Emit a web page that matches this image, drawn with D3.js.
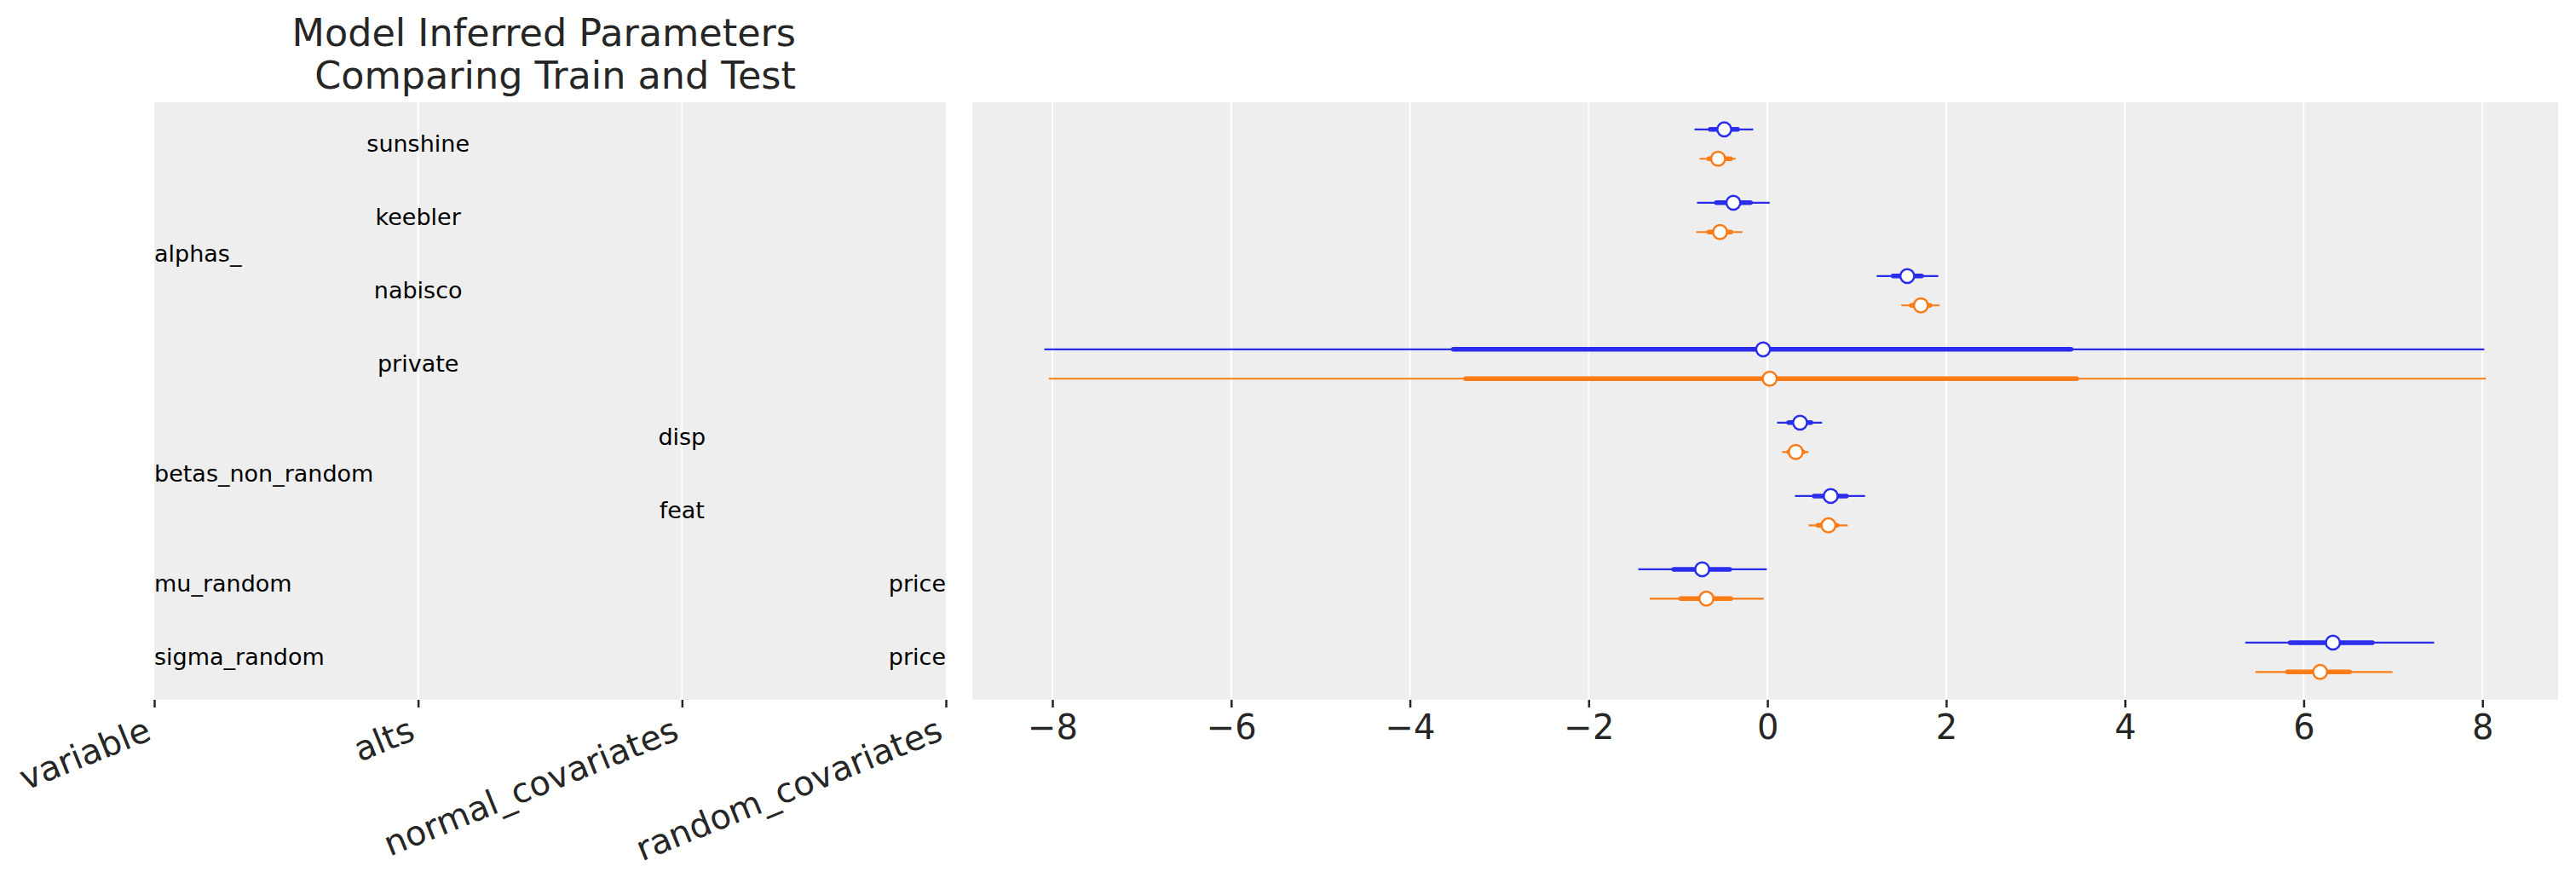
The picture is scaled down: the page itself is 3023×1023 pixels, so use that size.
<!DOCTYPE html>
<html>
<head>
<meta charset="utf-8">
<script src="https://cdn.jsdelivr.net/npm/d3@7"></script>
<style>
    body { margin: 0; background: #fff; }
    text { font-family: "DejaVu Sans", sans-serif; }
</style>
</head>
<body>
<svg id="chart"></svg>
<script>
// Table on the left: one row per parameter
const columnHeaders = ["variable", "alts", "normal_covariates", "random_covariates"];
const altsColumn = ["sunshine", "keebler", "nabisco", "private", "", "", "", ""];
const normalColumn = ["", "", "", "", "disp", "feat", "", ""];
const randomColumn = ["", "", "", "", "", "", "price", "price"];
const variableNames = ["alphas_", "betas_non_random", "mu_random", "sigma_random"];
const variableFirstRow = [0, 4, 6, 7];
const variableLastRow = [3, 5, 6, 7];

// Train (blue) estimates: median, 94% hdi, interquartile range
const trainMedian = [-0.483, -0.381, 1.565, -0.048, 0.365, 0.708, -0.730, 6.327];
const trainHdiLow = [-0.816, -0.788, 1.222, -8.09, 0.108, 0.308, -1.445, 5.346];
const trainHdiHigh = [-0.159, 0.026, 1.911, 8.02, 0.612, 1.092, -0.007, 7.46];
const trainIqrLow = [-0.641, -0.571, 1.407, -3.515, 0.238, 0.524, -1.048, 5.848];
const trainIqrHigh = [-0.333, -0.19, 1.724, 3.397, 0.486, 0.883, -0.422, 6.768];

// Test (orange) estimates
const testMedian = [-0.552, -0.530, 1.717, 0.026, 0.317, 0.683, -0.683, 6.184];
const testHdiLow = [-0.759, -0.797, 1.498, -8.04, 0.165, 0.46, -1.317, 5.46];
const testHdiHigh = [-0.355, -0.279, 1.927, 8.04, 0.46, 0.898, -0.041, 6.993];
const testIqrLow = [-0.657, -0.657, 1.61, -3.376, 0.238, 0.565, -0.968, 5.819];
const testIqrHigh = [-0.412, -0.41, 1.819, 3.46, 0.40, 0.778, -0.41, 6.514];

const xTicks = [-8, -6, -4, -2, 0, 2, 4, 6, 8];

const width = 3023;
const height = 1023;
const plotTop = 120, plotBottom = 821;
const textColor = "#262626";

const svg = d3.select("#chart")
    .attr("width", width)
    .attr("height", height);

svg.append("rect").attr("width", width).attr("height", height).attr("fill", "#fff");

// row index -> pixel y (shared by both panels)
const y = d3.scaleLinear()
    .domain([-0.57, 7.58])
    .range([plotTop, plotBottom]);

// ---------- left panel (the label table) ----------
const xLeft = d3.scaleLinear().domain([0, 3]).range([181, 1110]);

svg.append("rect")
    .attr("x", xLeft(0)).attr("y", plotTop)
    .attr("width", xLeft(3) - xLeft(0)).attr("height", plotBottom - plotTop)
    .attr("fill", "#eeeeee");

svg.selectAll(".lgrid")
    .data([1, 2])
    .enter()
    .append("line")
    .attr("class", "lgrid")
    .attr("x1", d => xLeft(d)).attr("x2", d => xLeft(d))
    .attr("y1", plotTop).attr("y2", plotBottom)
    .attr("stroke", "#fff")
    .attr("stroke-width", 2);

const leftAxis = svg.append("g")
    .attr("transform", `translate(0,${plotBottom})`)
    .call(d3.axisBottom(xLeft).tickValues([0, 1, 2, 3]).tickFormat(i => columnHeaders[i]).tickSize(9));
leftAxis.select(".domain").remove();
leftAxis.selectAll(".tick line").attr("stroke", textColor).attr("stroke-width", 2.5);
leftAxis.selectAll(".tick text")
    .attr("fill", textColor)
    .style("font-size", "40px")
    .attr("text-anchor", "end")
    .attr("y", 0).attr("dy", 0)
    .attr("transform", "translate(-2,46) rotate(-22)");

// table cells
function addColumn(values, col, anchor) {
    svg.selectAll(".cell" + col)
        .data(values)
        .enter()
        .append("text")
        .attr("class", "cell" + col)
        .attr("x", xLeft(col))
        .attr("y", (d, i) => y(i))
        .attr("dy", "0.33em")
        .attr("text-anchor", anchor)
        .style("font-size", "27px")
        .attr("fill", "#000")
        .text(d => d);
}
addColumn(altsColumn, 1, "middle");
addColumn(normalColumn, 2, "middle");
addColumn(randomColumn, 3, "end");

svg.selectAll(".varname")
    .data(variableNames)
    .enter()
    .append("text")
    .attr("class", "varname")
    .attr("x", xLeft(0))
    .attr("y", (d, i) => y((variableFirstRow[i] + variableLastRow[i]) / 2))
    .attr("dy", "0.33em")
    .style("font-size", "27px")
    .attr("fill", "#000")
    .text(d => d);

// ---------- right panel (forest plot) ----------
const allValues = trainHdiLow.concat(trainHdiHigh, testHdiLow, testHdiHigh);
const lo = d3.min(allValues), hi = d3.max(allValues);
const pad = (hi - lo) * 0.05;
const x = d3.scaleLinear()
    .domain([lo - pad, hi + pad])
    .range([1141, 3002]);

svg.append("rect")
    .attr("x", 1141).attr("y", plotTop)
    .attr("width", 3002 - 1141).attr("height", plotBottom - plotTop)
    .attr("fill", "#eeeeee");

svg.selectAll(".rgrid")
    .data(xTicks)
    .enter()
    .append("line")
    .attr("class", "rgrid")
    .attr("x1", d => x(d)).attr("x2", d => x(d))
    .attr("y1", plotTop).attr("y2", plotBottom)
    .attr("stroke", "#fff")
    .attr("stroke-width", 2);

const rightAxis = svg.append("g")
    .attr("transform", `translate(0,${plotBottom})`)
    .call(d3.axisBottom(x).tickValues(xTicks).tickSize(9).tickPadding(9));
rightAxis.select(".domain").remove();
rightAxis.selectAll(".tick line").attr("stroke", textColor).attr("stroke-width", 2.5);
rightAxis.selectAll(".tick text")
    .attr("fill", textColor)
    .style("font-size", "40px");

// draw one series: thin hdi line, thick iqr line, open median marker
function drawSeries(name, color, offset, median, hdiLow, hdiHigh, iqrLow, iqrHigh) {
    const g = svg.append("g").attr("class", name);
    const rows = d3.range(median.length);

    g.selectAll(".hdi")
        .data(rows)
        .enter()
        .append("line")
        .attr("x1", i => x(hdiLow[i])).attr("x2", i => x(hdiHigh[i]))
        .attr("y1", i => y(i + offset)).attr("y2", i => y(i + offset))
        .attr("stroke", color)
        .attr("stroke-width", 2.2);

    g.selectAll(".iqr")
        .data(rows)
        .enter()
        .append("line")
        .attr("x1", i => x(iqrLow[i])).attr("x2", i => x(iqrHigh[i]))
        .attr("y1", i => y(i + offset)).attr("y2", i => y(i + offset))
        .attr("stroke", color)
        .attr("stroke-width", 5.5)
        .attr("stroke-linecap", "round");

    g.selectAll(".med")
        .data(rows)
        .enter()
        .append("circle")
        .attr("cx", i => x(median[i]))
        .attr("cy", i => y(i + offset))
        .attr("r", 8.2)
        .attr("fill", "#fff")
        .attr("stroke", color)
        .attr("stroke-width", 2.5);
}

drawSeries("train", "#2a2eec", -0.2, trainMedian, trainHdiLow, trainHdiHigh, trainIqrLow, trainIqrHigh);
drawSeries("test", "#fa7c17", 0.2, testMedian, testHdiLow, testHdiHigh, testIqrLow, testIqrHigh);

// title over the left panel
const title = svg.append("text")
    .attr("x", 934)
    .attr("y", 54)
    .attr("text-anchor", "end")
    .attr("fill", textColor)
    .style("font-size", "44.5px");
title.append("tspan").attr("x", 934).text("Model Inferred Parameters");
title.append("tspan").attr("x", 934).attr("dy", 50).text("Comparing Train and Test");
</script>
</body>
</html>
